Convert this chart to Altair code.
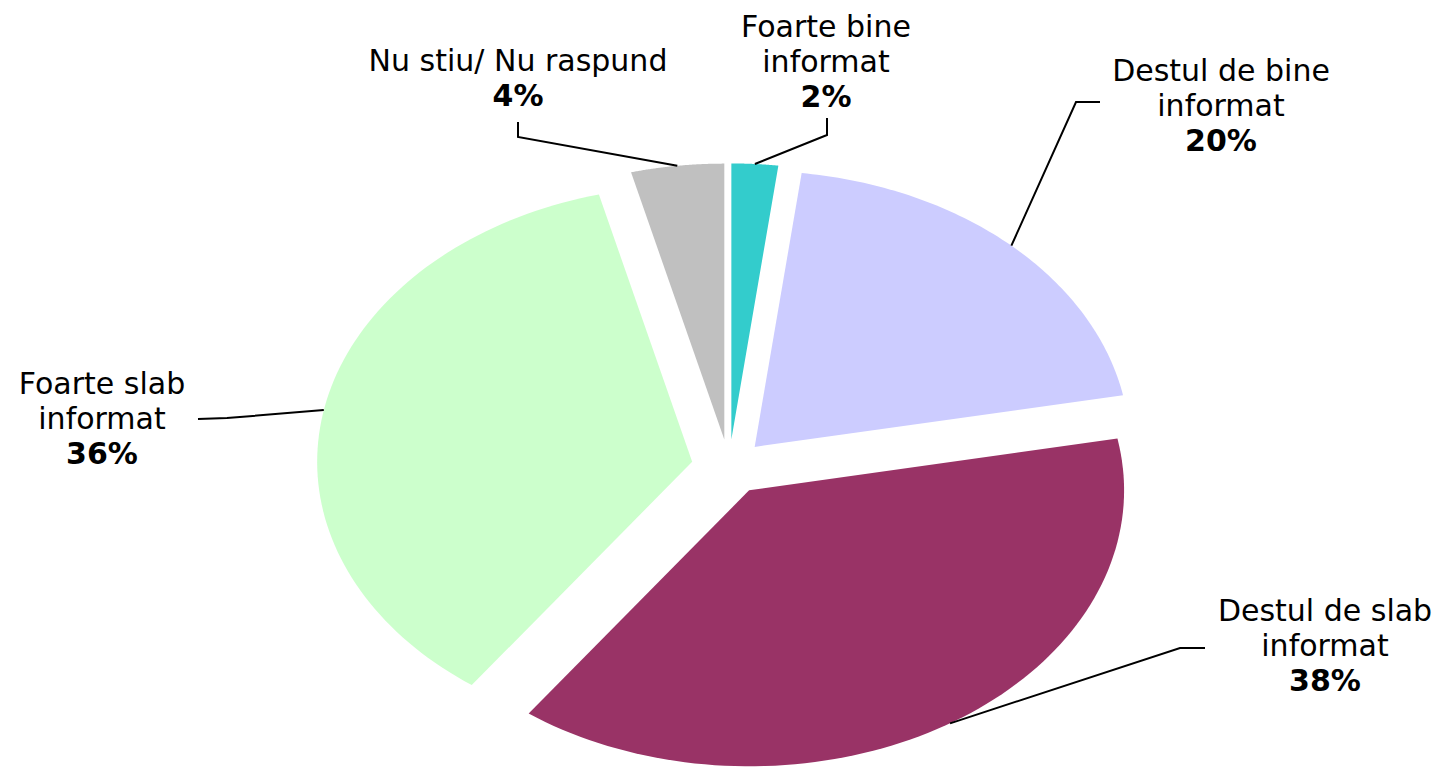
import math
import numpy as np
import pandas as pd
import altair as alt

# ---------------- data ----------------
categories = ["Foarte bine informat", "Destul de bine informat", "Destul de slab informat",
              "Foarte slab informat", "Nu stiu/ Nu raspund"]
values = [2, 20, 38, 36, 4]
colors = ["#33CCCC", "#CCCCFF", "#993366", "#CCFFCC", "#C0C0C0"]
label_names = [["Foarte bine", "informat"], ["Destul de bine", "informat"],
               ["Destul de slab", "informat"], ["Foarte slab", "informat"],
               ["Nu stiu/ Nu raspund"]]

# ---------------- layout (pixels of the 1442x767 page) ----------------
CX, CY = 729, 467          # pie centre
RX, RY = 375, 276          # horizontal / vertical radius (stretched pie)
EXPLODE = 0.10             # explosion as fraction of radius
N_ARC = 90
label_anchor = [(826, 28), (1221, 72), (1325, 612), (102, 385), (518, 62)]
LINE_H = 35
leader_knees = [[(827, 118), (827, 135)],
                [(1100, 102), (1076, 102)],
                [(1205, 648), (1180, 648)],
                [(198, 419), (227, 418)],
                [(518, 122), (518, 137)]]

total = float(sum(values))
poly_rows, lead_rows, text_rows = [], [], []
cum = 0.0
for i, (cat, v) in enumerate(zip(categories, values)):
    a0 = cum / total * 2 * math.pi
    a1 = (cum + v) / total * 2 * math.pi
    cum += v
    b = (a0 + a1) / 2
    ox = CX + EXPLODE * RX * math.sin(b)
    oy = CY - EXPLODE * RY * math.cos(b)
    poly_rows.append({"cat": cat, "x": ox, "y": oy, "o": 0})
    for k, t in enumerate(np.linspace(a0, a1, N_ARC)):
        poly_rows.append({"cat": cat, "x": ox + RX * math.sin(t), "y": oy - RY * math.cos(t), "o": k + 1})
    # leader line: label knee -> slice edge at bisector
    pts = leader_knees[i] + [(ox + RX * math.sin(b), oy - RY * math.cos(b))]
    for k, (px, py) in enumerate(pts):
        lead_rows.append({"cat": cat, "x": px, "y": py, "o": k})
    # labels
    lx, ly = label_anchor[i]
    for k, line in enumerate(label_names[i]):
        text_rows.append({"x": lx, "y": ly + k * LINE_H, "t": line, "bold": 0})
    text_rows.append({"x": lx, "y": ly + len(label_names[i]) * LINE_H, "t": f"{v}%", "bold": 1})

poly = pd.DataFrame(poly_rows)
lead = pd.DataFrame(lead_rows)
texts = pd.DataFrame(text_rows)

xs = alt.Scale(domain=[8, 1434], nice=False, zero=False)
ys = alt.Scale(domain=[8, 759], nice=False, zero=False, reverse=True)
X = alt.X("x:Q", scale=xs, axis=None)
Y = alt.Y("y:Q", scale=ys, axis=None)

slices = alt.Chart(poly).mark_line(interpolate="linear-closed", strokeWidth=0).encode(
    x=X, y=Y,
    fill=alt.Fill("cat:N", scale=alt.Scale(domain=categories, range=colors), legend=None),
    detail="cat:N",
    order="o:Q",
)

leaders = alt.Chart(lead).mark_line(color="black", strokeWidth=2).encode(
    x=X, y=Y, detail="cat:N", order="o:Q"
)

FONT = "DejaVu Sans"
names = alt.Chart(texts).transform_filter("datum.bold == 0").mark_text(
    font=FONT, fontSize=30, color="black", align="center", baseline="middle"
).encode(x=X, y=Y, text="t:N")

pcts = alt.Chart(texts).transform_filter("datum.bold == 1").mark_text(
    font=FONT, fontSize=30, fontWeight="bold", color="black", align="center", baseline="middle"
).encode(x=X, y=Y, text="t:N")

chart = alt.layer(slices, leaders, names, pcts).properties(
    width=1426, height=751, padding=0, background="white"
).configure_view(stroke="transparent")

chart.save("out.html", embed_options={"renderer": "svg", "actions": False})
